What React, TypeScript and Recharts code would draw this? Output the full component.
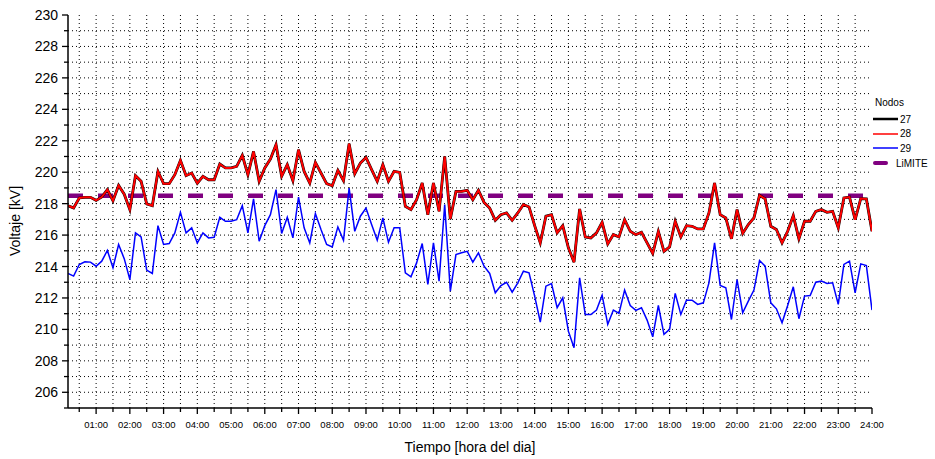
import React from 'react';
import { LineChart, Line, XAxis, YAxis, CartesianGrid, ReferenceLine } from 'recharts';

// node voltages every 10 min, 00:10 .. 24:00
const nodo28 = [
  217.87, 217.73, 218.36, 218.4, 218.4, 218.21, 218.42, 218.89, 218.19, 219.16, 218.6, 217.62,
  219.78, 219.42, 217.98, 217.87, 220.05, 219.27, 219.27, 219.84, 220.75, 219.78, 219.95, 219.3,
  219.74, 219.52, 219.52, 220.52, 220.27, 220.27, 220.37, 221.07, 219.84, 221.32, 219.42, 220.27,
  220.84, 221.75, 219.74, 220.48, 219.46, 221.43, 220.05, 219.31, 220.62, 219.95, 219.27,
  219.14, 220.12, 219.46, 221.81, 219.9, 220.58, 220.94, 220.16, 219.42, 220.48, 219.42, 220.05,
  219.99, 217.83, 217.62, 218.25, 219.31, 217.3, 219.31, 217.51, 221.0, 217.03, 218.78,
  218.78, 218.85, 218.25, 218.85, 218.08, 217.72, 216.94, 217.3, 217.41, 216.94, 217.41, 217.94,
  217.79, 216.6, 215.5, 217.2, 217.3, 216.14, 216.6, 215.19, 214.28, 217.66, 215.88,
  215.82, 216.14, 216.81, 215.44, 216.03, 215.88, 216.98, 216.24, 216.03, 216.18, 215.5, 214.83,
  216.24, 214.97, 215.25, 216.88, 215.88, 216.6, 216.56, 216.39, 216.39, 217.41, 219.31, 217.3,
  217.09, 215.76, 217.62, 216.1, 216.67, 217.09, 218.53, 218.3, 216.56, 216.35, 215.5, 216.24,
  217.24, 215.76, 216.88, 216.88, 217.51, 217.62, 217.45, 217.51, 216.46, 218.36, 218.42, 216.98,
  218.32, 218.3, 216.24,
];

// 27 and 28 coincide at this scale
const nodo27 = nodo28;

const nodo29 = [
  213.56, 213.39, 214.13, 214.3, 214.28, 214.02, 214.34, 215.02, 213.92, 215.4, 214.5, 213.17,
  216.14, 215.88, 213.77, 213.56, 216.6, 215.4, 215.46, 216.14, 217.45, 216.14, 216.46, 215.5,
  216.14, 215.82, 215.86, 217.13, 216.88, 216.88, 216.98, 217.87, 216.14, 218.3, 215.61, 216.6,
  217.3, 218.89, 216.1, 217.13, 215.82, 218.42, 216.46, 215.5, 217.37, 216.35, 215.4,
  215.25, 216.52, 215.67, 218.99, 216.24, 217.2, 217.72, 216.67, 215.67, 217.09, 215.54, 216.46,
  216.46, 213.6, 213.34, 214.23, 215.46, 212.86, 215.5, 213.07, 217.94, 212.43, 214.76,
  214.87, 214.97, 214.28, 214.87, 214.02, 213.56, 212.33, 212.79, 213.0, 212.37, 212.96, 213.7,
  213.6, 212.12, 210.47, 212.75, 212.92, 211.38, 212.01, 209.89, 208.84, 213.28, 210.95,
  210.95, 211.23, 212.18, 210.32, 211.23, 211.02, 212.5, 211.52, 211.21, 211.38, 210.59, 209.53,
  211.52, 209.68, 210.0, 212.29, 210.95, 211.86, 211.86, 211.59, 211.69, 212.96, 215.5, 212.79,
  212.65, 210.63, 213.17, 211.06, 211.8, 212.5, 214.38, 214.02, 211.69, 211.31, 210.42, 211.52,
  212.71, 210.68, 212.12, 212.16, 213.0, 213.07, 212.92, 212.96, 211.59, 214.13, 214.34, 212.33,
  214.17, 214.06, 211.23,
];

const LIMITE = 218.5;

const xTicks = Array.from({ length: 48 }, (_, k) => (k + 1) / 2);
const xGrid = xTicks.filter((t) => t < 24);
const yTicks = Array.from({ length: 26 }, (_, k) => 205 + k);
const yGrid = yTicks.filter((v) => v > 205 && v < 230);

const series = [
  { key: 'n27', name: '27', color: '#000000', width: 2.8, legendWidth: 2.5 },
  { key: 'n28', name: '28', color: '#ff0000', width: 2, legendWidth: 1.5 },
  { key: 'n29', name: '29', color: '#0000ff', width: 1.5, legendWidth: 1.5 },
];

const data = nodo28.map((v, i) => ({
  t: (i + 1) / 6,
  n27: nodo27[i],
  n28: v,
  n29: nodo29[i],
}));

const FONT = '"Liberation Sans", Arial, sans-serif';

function TimeTick({ x, y, payload }: any) {
  const v = payload.value as number;
  const major = Number.isInteger(v);
  return (
    <g>
      <line x1={x} x2={x} y1={y} y2={y + (major ? 6 : 4)} stroke="#000" strokeWidth={1.3} />
      {major && (
        <text x={x} y={y + 20} textAnchor="middle" fontSize={9.5} fill="#000" fontFamily={FONT}>
          {`${String(v).padStart(2, '0')}:00`}
        </text>
      )}
    </g>
  );
}

function VoltTick({ x, y, payload }: any) {
  const v = payload.value as number;
  const major = v % 2 === 0;
  return (
    <g>
      <line x1={x - (major ? 6 : 4)} x2={x} y1={y} y2={y} stroke="#000" strokeWidth={1.3} />
      {major && (
        <text x={x - 10} y={y} dy="0.36em" textAnchor="end" fontSize={14} fill="#000" fontFamily={FONT}>
          {v}
        </text>
      )}
    </g>
  );
}

function Legenda() {
  const rows = [...series.map((s) => ({ ...s, dash: false })), { key: 'lim', name: 'LiMITE', color: '#800080', width: 4, legendWidth: 4, dash: true }];
  return (
    <div style={{ position: 'absolute', left: 872, top: 97, fontFamily: FONT, fontSize: 10, color: '#000' }}>
      <div style={{ position: 'absolute', left: 3, top: 0, whiteSpace: 'nowrap' }}>Nodos</div>
      {rows.map((r, i) => (
        <div key={r.key} style={{ position: 'absolute', left: 0, top: 15 + i * 14.7, display: 'flex', alignItems: 'center', height: 14, whiteSpace: 'nowrap' }}>
          <svg width={r.dash ? 24 : 28} height={14}>
            {r.dash ? (
              <line x1={3} x2={14} y1={7} y2={7} stroke={r.color} strokeWidth={r.legendWidth} strokeLinecap="round" />
            ) : (
              <line x1={1} x2={26} y1={7} y2={7} stroke={r.color} strokeWidth={r.legendWidth} />
            )}
          </svg>
          <span>{r.name}</span>
        </div>
      ))}
    </div>
  );
}

export default function App() {
  return (
    <div style={{ position: 'absolute', left: 0, top: 0, width: 935, height: 459, background: '#fff', fontFamily: FONT }}>
      <LineChart width={935} height={459} data={data} margin={{ top: 15, right: 63, left: 8, bottom: 21 }}>
        <CartesianGrid
          horizontalValues={yGrid}
          verticalValues={xGrid}
          stroke="#000"
          strokeWidth={1}
          strokeDasharray="1 3"
        />
        <XAxis
          dataKey="t"
          type="number"
          domain={[1 / 6, 24]}
          ticks={xTicks}
          interval={0}
          height={30}
          tickSize={0}
          tickMargin={0}
          tickLine={false}
          axisLine={{ stroke: '#000', strokeWidth: 1.5 }}
          tick={<TimeTick />}
          allowDataOverflow
          label={{
            content: ({ viewBox }: any) => (
              <text x={viewBox.x + viewBox.width / 2} y={viewBox.y + 44} textAnchor="middle" fontSize={14} fill="#000" fontFamily={FONT}>
                Tiempo [hora del dia]
              </text>
            ),
          }}
        />
        <YAxis
          type="number"
          domain={[205, 230]}
          ticks={yTicks}
          interval={0}
          width={60}
          tickSize={0}
          tickMargin={0}
          tickLine={false}
          axisLine={{ stroke: '#000', strokeWidth: 1.5 }}
          tick={<VoltTick />}
          allowDataOverflow
          label={{
            content: () => (
              <text x={15} y={221} transform="rotate(-90, 15, 221)" textAnchor="middle" dy="0.36em" fontSize={14} fill="#000" fontFamily={FONT}>
                Voltaje [kV]
              </text>
            ),
          }}
        />
        <ReferenceLine y={LIMITE} stroke="#800080" strokeWidth={4.5} strokeDasharray="15 15" />
        {series.map((s) => (
          <Line
            key={s.key}
            type="linear"
            dataKey={s.key}
            name={s.name}
            stroke={s.color}
            strokeWidth={s.width}
            dot={false}
            activeDot={false}
            isAnimationActive={false}
          />
        ))}
      </LineChart>
      <Legenda />
    </div>
  );
}
